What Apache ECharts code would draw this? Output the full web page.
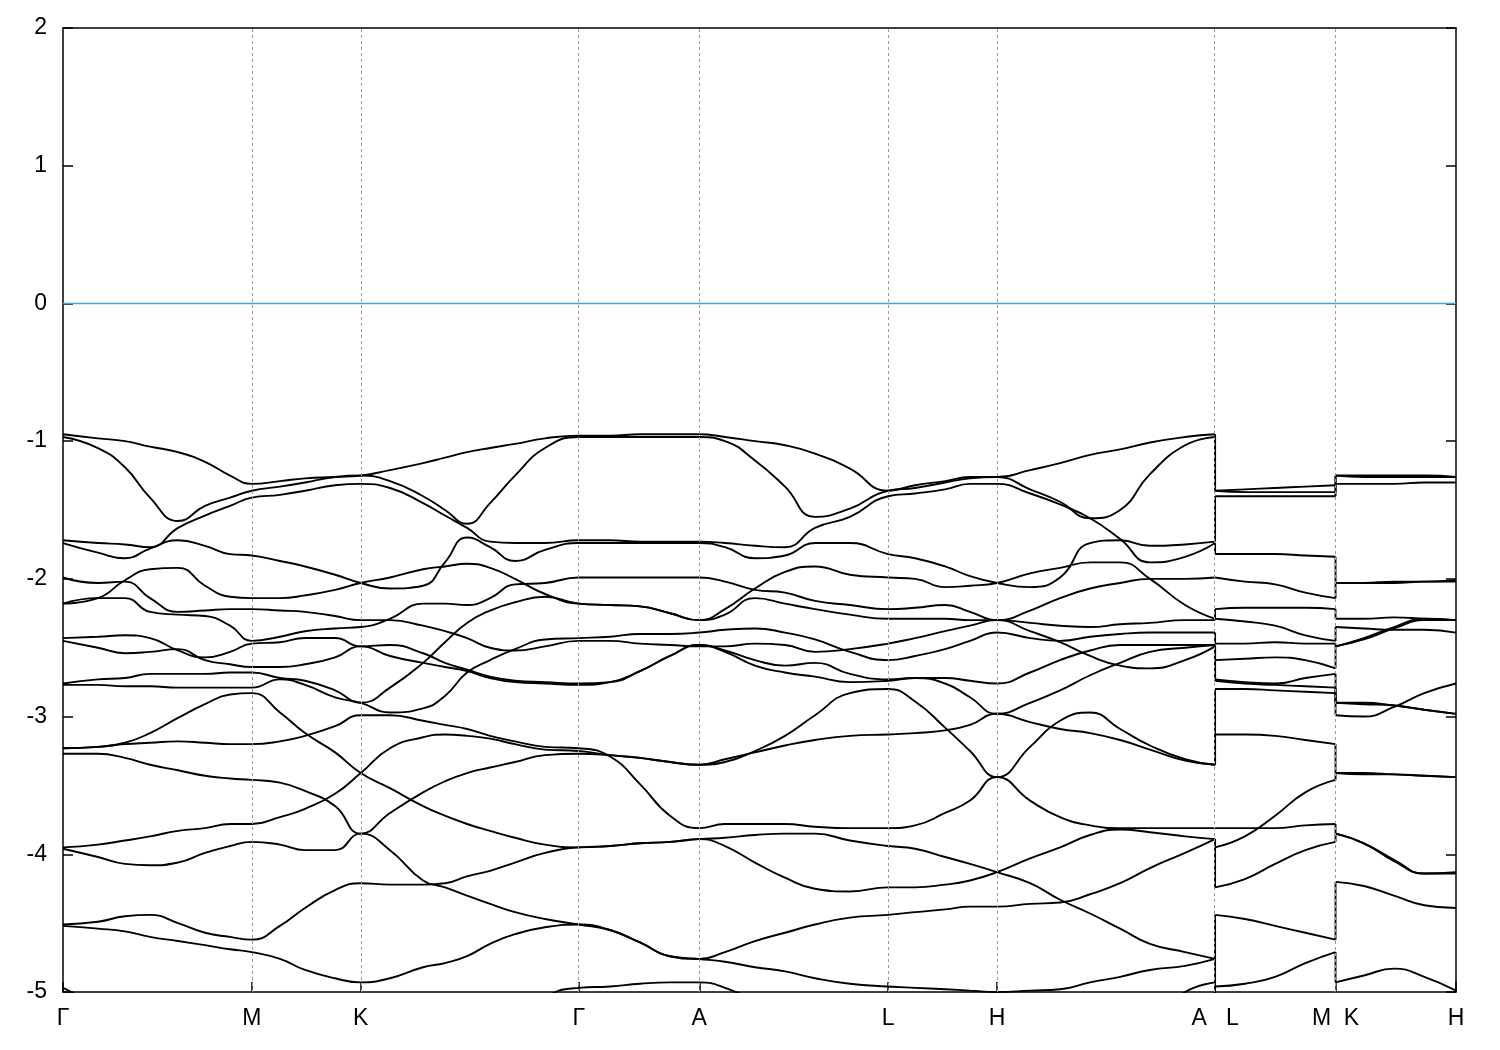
<!DOCTYPE html>
<html><head><meta charset="utf-8">
<script src="https://cdn.jsdelivr.net/npm/echarts@6/dist/echarts.min.js"></script>
<style>html,body{margin:0;padding:0;background:#fff}#c{width:1500px;height:1050px}</style>
</head><body><div id="c"></div>
<script>
// high-symmetry points along the k-path
const kTicks  = [0, 1.0, 1.577, 2.732, 3.370, 4.370, 4.947, 6.102, 6.740, 7.378];
const kLabels = ['Γ','M','K','Γ','A','L','H','A   L','M  K','H'];
const yTicks = [-5, -4, -3, -2, -1, 0, 1, 2];

// k sample positions, panel 1: Γ-M-K-Γ-A-L-H-A
const kGrid1 = [0,0.185,0.328,0.461,0.609,0.752,0.885,1.0, 1.149,1.282,1.441,1.577,
  1.732,1.907,2.023,2.140,2.262,2.394,2.553,2.732, 2.897,3.056,3.215,3.370,
  3.506,3.665,3.824,3.983,4.168,4.370, 4.513,4.672,4.804,4.947,
  5.122,5.281,5.440,5.599,5.757,5.943,6.102];
// panel 2: L-M, panel 3: K-H
const kGrid2 = [6.102,6.26,6.42,6.58,6.740];
const kGrid3 = [6.740,6.89,7.05,7.21,7.378];

// band energies (eV), panel 1
const b01 = [-0.95,-0.98,-1.00,-1.04,-1.08,-1.15,-1.25,-1.31, -1.29,-1.27,-1.26,-1.25, -1.21,-1.16,-1.12,-1.08,-1.05,-1.02,-0.98,-0.96, -0.96,-0.95,-0.95,-0.95, -0.97,-1.00,-1.03,-1.09,-1.20,-1.36, -1.32,-1.29,-1.26,-1.26, -1.21,-1.16,-1.10,-1.06,-1.01,-0.97,-0.95];
const b02 = [-0.97,-1.05,-1.19,-1.41,-1.58,-1.47,-1.41,-1.36, -1.33,-1.30,-1.26,-1.25, -1.29,-1.40,-1.50,-1.60,-1.45,-1.25,-1.05,-0.97, -0.97,-0.97,-0.97,-0.97, -1.00,-1.14,-1.33,-1.55,-1.49,-1.36, -1.34,-1.30,-1.27,-1.26, -1.35,-1.44,-1.56,-1.50,-1.24,-1.03,-0.97];
const b03 = [-1.72,-1.74,-1.75,-1.77,-1.63,-1.54,-1.47,-1.41, -1.39,-1.36,-1.32,-1.31, -1.34,-1.45,-1.54,-1.63,-1.73,-1.74,-1.74,-1.72, -1.72,-1.73,-1.73,-1.73, -1.74,-1.76,-1.77,-1.63,-1.55,-1.40, -1.38,-1.35,-1.31,-1.31, -1.38,-1.46,-1.56,-1.71,-1.88,-1.84,-1.74];
const b04 = [-1.74,-1.81,-1.85,-1.78,-1.72,-1.76,-1.82,-1.83, -1.87,-1.91,-1.97,-2.03, -2.07,-2.05,-1.88,-1.70,-1.77,-1.87,-1.79,-1.74, -1.74,-1.74,-1.74,-1.74, -1.77,-1.85,-1.83,-1.74,-1.74,-1.82, -1.85,-1.91,-1.98,-2.03, -2.06,-1.99,-1.74,-1.72,-1.76,-1.75,-1.73];
const b05 = [-1.99,-2.03,-2.02,-2.14,-2.24,-2.23,-2.22,-2.22, -2.23,-2.24,-2.27,-2.30, -2.30,-2.34,-2.38,-2.43,-2.50,-2.52,-2.49,-2.45, -2.45,-2.47,-2.48,-2.49, -2.49,-2.47,-2.48,-2.53,-2.51,-2.47, -2.43,-2.38,-2.34,-2.30, -2.38,-2.46,-2.56,-2.63,-2.65,-2.59,-2.49];
const b06 = [-2.18,-2.14,-2.01,-1.93,-1.92,-2.05,-2.13,-2.14, -2.14,-2.12,-2.08,-2.03, -1.99,-1.93,-1.91,-1.89,-1.92,-2.00,-2.11,-2.18, -2.19,-2.20,-2.25,-2.30, -2.22,-2.07,-1.95,-1.91,-1.97,-1.99, -2.00,-2.06,-2.05,-2.03, -1.96,-1.92,-1.88,-1.88,-2.00,-2.19,-2.29];
const b07 = [-2.18,-2.14,-2.14,-2.24,-2.26,-2.27,-2.34,-2.45, -2.42,-2.38,-2.36,-2.35, -2.29,-2.18,-2.18,-2.19,-2.14,-2.04,-2.03,-1.99, -1.99,-1.99,-1.99,-1.99, -2.02,-2.08,-2.10,-2.16,-2.19,-2.22, -2.21,-2.19,-2.24,-2.30, -2.23,-2.14,-2.07,-2.03,-2.00,-2.00,-1.99];
const b08 = [-2.43,-2.42,-2.41,-2.43,-2.52,-2.57,-2.53,-2.47, -2.46,-2.43,-2.43,-2.49, -2.48,-2.54,-2.61,-2.66,-2.71,-2.74,-2.75,-2.76, -2.75,-2.67,-2.56,-2.48, -2.52,-2.59,-2.63,-2.61,-2.69,-2.73, -2.72,-2.72,-2.74,-2.76, -2.68,-2.59,-2.52,-2.48,-2.48,-2.48,-2.48];
const b09 = [-2.45,-2.50,-2.54,-2.53,-2.51,-2.59,-2.62,-2.64, -2.64,-2.62,-2.57,-2.49, -2.56,-2.61,-2.64,-2.67,-2.72,-2.75,-2.76,-2.77, -2.75,-2.67,-2.56,-2.48, -2.53,-2.63,-2.68,-2.71,-2.75,-2.74, -2.72,-2.76,-2.86,-2.98, -2.90,-2.81,-2.70,-2.61,-2.53,-2.50,-2.48];
const b10 = [-2.76,-2.73,-2.72,-2.69,-2.69,-2.69,-2.68,-2.68, -2.72,-2.74,-2.81,-2.90, -2.79,-2.61,-2.46,-2.32,-2.23,-2.17,-2.13,-2.18, -2.19,-2.20,-2.25,-2.30, -2.26,-2.14,-2.18,-2.22,-2.26,-2.29, -2.29,-2.29,-2.30,-2.30, -2.32,-2.34,-2.35,-2.33,-2.32,-2.30,-2.30];
const b11 = [-2.77,-2.77,-2.78,-2.78,-2.79,-2.79,-2.79,-2.79, -2.73,-2.77,-2.86,-2.90, -2.97,-2.94,-2.85,-2.68,-2.59,-2.51,-2.44,-2.43, -2.42,-2.40,-2.40,-2.39, -2.37,-2.36,-2.39,-2.44,-2.53,-2.59, -2.56,-2.51,-2.45,-2.39, -2.43,-2.45,-2.42,-2.40,-2.39,-2.39,-2.39];
const b12 = [-3.23,-3.22,-3.19,-3.12,-3.01,-2.91,-2.84,-2.83, -2.97,-3.12,-3.26,-3.41, -3.52,-3.65,-3.72,-3.78,-3.83,-3.88,-3.93,-3.95, -3.94,-3.92,-3.91,-3.89, -3.88,-3.86,-3.85,-3.85,-3.90,-3.94, -3.96,-4.02,-4.07,-4.13, -4.21,-4.33,-4.43,-4.54,-4.65,-4.71,-4.76];
const b13 = [-3.23,-3.22,-3.20,-3.19,-3.18,-3.19,-3.20,-3.20, -3.18,-3.14,-3.07,-2.99, -2.99,-3.03,-3.06,-3.09,-3.14,-3.18,-3.22,-3.23, -3.29,-3.49,-3.72,-3.81, -3.78,-3.78,-3.78,-3.80,-3.81,-3.81, -3.79,-3.70,-3.61,-3.44, -3.61,-3.73,-3.79,-3.81,-3.81,-3.81,-3.81];
const b14 = [-3.27,-3.27,-3.30,-3.35,-3.39,-3.43,-3.45,-3.46, -3.48,-3.54,-3.65,-3.85, -3.70,-3.55,-3.47,-3.41,-3.37,-3.33,-3.28,-3.27, -3.28,-3.30,-3.33,-3.35, -3.33,-3.25,-3.14,-2.99,-2.83,-2.80, -2.89,-3.08,-3.25,-3.44, -3.22,-3.03,-2.97,-3.09,-3.21,-3.31,-3.35];
const b15 = [-3.95,-3.93,-3.90,-3.87,-3.83,-3.81,-3.78,-3.78, -3.73,-3.67,-3.56,-3.41, -3.23,-3.15,-3.13,-3.14,-3.16,-3.20,-3.24,-3.25, -3.28,-3.30,-3.33,-3.35, -3.31,-3.26,-3.21,-3.17,-3.14,-3.13, -3.12,-3.10,-3.06,-2.98, -3.04,-3.09,-3.12,-3.17,-3.24,-3.32,-3.35];
const b16 = [-3.96,-4.02,-4.07,-4.08,-4.06,-3.99,-3.94,-3.91, -3.93,-3.97,-3.97,-3.85, -3.97,-4.19,-4.24,-4.30,-4.36,-4.42,-4.47,-4.51, -4.55,-4.64,-4.74,-4.76, -4.71,-4.63,-4.57,-4.51,-4.46,-4.44, -4.42,-4.40,-4.38,-4.38, -4.36,-4.35,-4.29,-4.21,-4.10,-3.99,-3.89];
const b17 = [-4.51,-4.49,-4.45,-4.44,-4.50,-4.57,-4.60,-4.62, -4.52,-4.39,-4.26,-4.21, -4.22,-4.22,-4.21,-4.16,-4.12,-4.06,-3.99,-3.95, -3.94,-3.92,-3.91,-3.89, -3.94,-4.06,-4.17,-4.25,-4.27,-4.24, -4.24,-4.22,-4.19,-4.13, -4.03,-3.95,-3.86,-3.82,-3.84,-3.87,-3.89];
const b18 = [-4.52,-4.54,-4.56,-4.60,-4.63,-4.66,-4.69,-4.71, -4.76,-4.84,-4.90,-4.93, -4.90,-4.82,-4.79,-4.74,-4.65,-4.58,-4.53,-4.51, -4.55,-4.64,-4.74,-4.76, -4.78,-4.82,-4.85,-4.90,-4.94,-4.96, -4.97,-4.98,-4.99,-5.00, -4.99,-4.98,-4.93,-4.89,-4.84,-4.81,-4.76];
const b19 = [-4.97,-5.12,-5.30,-5.40,-5.40,-5.40,-5.40,-5.40, -5.40,-5.40,-5.40,-5.40, -5.40,-5.40,-5.40,-5.40,-5.40,-5.25,-5.04,-4.97, -4.96,-4.94,-4.93,-4.93, -4.97,-5.08,-5.30,-5.40,-5.40,-5.40, -5.40,-5.40,-5.40,-5.40, -5.40,-5.40,-5.40,-5.35,-5.20,-5.00,-4.93];

// panel 2: L-M
const lm01 = [-1.36,-1.35,-1.34,-1.33,-1.32];
const lm02 = [-1.36,-1.37,-1.37,-1.37,-1.37];
const lm03 = [-1.40,-1.40,-1.40,-1.40,-1.40];
const lm04 = [-1.82,-1.82,-1.82,-1.83,-1.84];
const lm05 = [-1.99,-2.02,-2.04,-2.10,-2.14];
const lm06 = [-2.22,-2.21,-2.21,-2.21,-2.22];
const lm07 = [-2.29,-2.31,-2.34,-2.41,-2.45];
const lm08 = [-2.47,-2.47,-2.46,-2.47,-2.47];
const lm09 = [-2.59,-2.58,-2.57,-2.59,-2.65];
const lm10 = [-2.73,-2.75,-2.76,-2.72,-2.69];
const lm11 = [-2.74,-2.76,-2.77,-2.78,-2.79];
const lm12 = [-2.80,-2.80,-2.81,-2.82,-2.83];
const lm13 = [-3.13,-3.13,-3.14,-3.17,-3.20];
const lm14 = [-3.81,-3.81,-3.81,-3.79,-3.78];
const lm15 = [-3.95,-3.87,-3.72,-3.55,-3.46];
const lm16 = [-4.24,-4.18,-4.07,-3.97,-3.91];
const lm17 = [-4.44,-4.47,-4.52,-4.57,-4.62];
const lm18 = [-4.96,-4.94,-4.89,-4.79,-4.71];

// panel 3: K-H
const kh01 = [-1.25,-1.25,-1.25,-1.25,-1.26];
const kh02 = [-1.25,-1.26,-1.26,-1.26,-1.26];
const kh03 = [-1.31,-1.31,-1.31,-1.30,-1.30];
const kh04 = [-2.03,-2.03,-2.02,-2.02,-2.01];
const kh05 = [-2.03,-2.03,-2.03,-2.02,-2.02];
const kh06 = [-2.29,-2.29,-2.28,-2.29,-2.30];
const kh07 = [-2.35,-2.36,-2.37,-2.37,-2.39];
const kh08 = [-2.49,-2.43,-2.35,-2.29,-2.30];
const kh09 = [-2.49,-2.44,-2.36,-2.30,-2.30];
const kh10 = [-2.90,-2.90,-2.92,-2.95,-2.98];
const kh11 = [-2.90,-2.91,-2.92,-2.95,-2.98];
const kh12 = [-2.99,-3.00,-2.93,-2.83,-2.76];
const kh13 = [-3.41,-3.41,-3.42,-3.43,-3.44];
const kh14 = [-3.41,-3.42,-3.42,-3.43,-3.44];
const kh15 = [-3.85,-3.92,-4.04,-4.14,-4.13];
const kh16 = [-3.85,-3.92,-4.05,-4.14,-4.14];
const kh17 = [-4.20,-4.23,-4.30,-4.37,-4.39];
const kh18 = [-4.93,-4.88,-4.83,-4.89,-4.99];

const panel1 = [b01,b02,b03,b04,b05,b06,b07,b08,b09,b10,b11,b12,b13,b14,b15,b16,b17,b18,b19];
const panel2 = [lm01,lm02,lm03,lm04,lm05,lm06,lm07,lm08,lm09,lm10,lm11,lm12,lm13,lm14,lm15,lm16,lm17,lm18];
const panel3 = [kh01,kh02,kh03,kh04,kh05,kh06,kh07,kh08,kh09,kh10,kh11,kh12,kh13,kh14,kh15,kh16,kh17,kh18];
const nBands = 19;
const belowRange = -5.6;

const bandStyle = {color:'#000', width:1.9};
const series = [];

// Fermi level line + vertical dashed lines at high-symmetry points
series.push({
  type:'line', data:[[kTicks[0],0],[kTicks[kTicks.length-1],0]], symbol:'none', silent:true, z:1,
  lineStyle:{color:'#3ea6dc', width:1.5},
  markLine:{silent:true, symbol:'none', label:{show:false},
    lineStyle:{color:'#9a9a9a', type:[3,3], width:1},
    emphasis:{disabled:true},
    data:kTicks.slice(1,-1).map(v=>({xAxis:v}))}
});

function addPanel(grid, bands){
  bands.forEach(b=>{
    series.push({type:'line', data:grid.map((k,i)=>[k,b[i]]), smooth:0.5,
      symbol:'none', silent:true, lineStyle:bandStyle, z:3});
  });
}
addPanel(kGrid1, panel1);
addPanel(kGrid2, panel2);
addPanel(kGrid3, panel3);

// vertical jumps at the path discontinuities (bands joined by energy order)
function addJumps(x, endVals, startVals){
  const a = endVals.slice().sort((p,q)=>q-p);
  const b = startVals.slice().sort((p,q)=>q-p);
  while(a.length<nBands) a.push(belowRange);
  while(b.length<nBands) b.push(belowRange);
  for(let i=0;i<nBands;i++){
    series.push({type:'line', data:[[x,a[i]],[x,b[i]]], symbol:'none', silent:true, lineStyle:bandStyle, z:3});
  }
}
addJumps(kTicks[7], panel1.map(b=>b[b.length-1]), panel2.map(b=>b[0]));
addJumps(kTicks[8], panel2.map(b=>b[b.length-1]), panel3.map(b=>b[0]));

const font = 'Liberation Sans, Arial, sans-serif';
const chart = echarts.init(document.getElementById('c'));
chart.setOption({
  animation:false,
  backgroundColor:'#fff',
  grid:{left:63, right:44, top:28, bottom:58, containLabel:false},
  xAxis:[{
    type:'value', min:kTicks[0], max:kTicks[kTicks.length-1], position:'bottom',
    axisLine:{show:true, onZero:false, lineStyle:{color:'#000', width:1.5}},
    axisTick:{show:true, inside:true, length:10, customValues:kTicks, lineStyle:{color:'#000', width:1.5}},
    axisLabel:{show:true, customValues:kTicks, color:'#000', fontSize:23, fontFamily:font, margin:15,
      formatter:function(v){const i=kTicks.findIndex(t=>Math.abs(t-v)<1e-6); return i>=0?kLabels[i]:'';}},
    splitLine:{show:false}
  },{
    type:'value', min:kTicks[0], max:kTicks[kTicks.length-1], position:'top',
    axisLine:{show:true, onZero:false, lineStyle:{color:'#000', width:1.5}},
    axisTick:{show:false}, axisLabel:{show:false}, splitLine:{show:false}
  }],
  yAxis:[{
    type:'value', min:yTicks[0], max:yTicks[yTicks.length-1], interval:1, position:'left',
    axisLine:{show:true, onZero:false, lineStyle:{color:'#000', width:1.5}},
    axisTick:{show:true, inside:true, length:10, lineStyle:{color:'#000', width:1.5}},
    axisLabel:{color:'#000', fontSize:23, fontFamily:font, margin:16},
    splitLine:{show:false}
  },{
    type:'value', min:yTicks[0], max:yTicks[yTicks.length-1], interval:1, position:'right',
    axisLine:{show:true, onZero:false, lineStyle:{color:'#000', width:1.5}},
    axisTick:{show:true, inside:true, length:10, lineStyle:{color:'#000', width:1.5}},
    axisLabel:{show:false}, splitLine:{show:false}
  }],
  series:series
});
</script></body></html>
